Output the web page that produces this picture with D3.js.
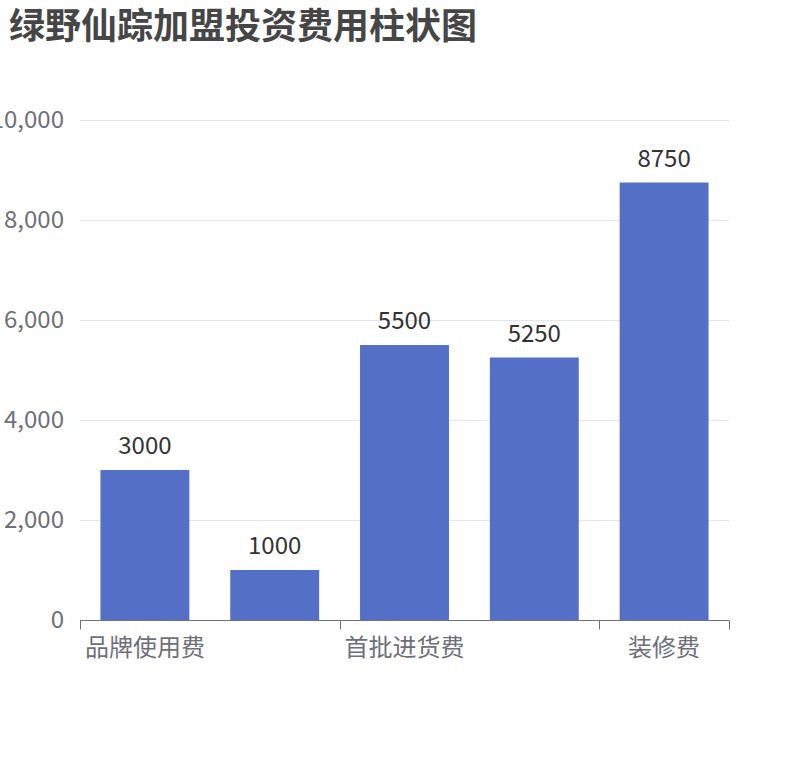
<!DOCTYPE html>
<html>
<head>
<meta charset="utf-8">
<script src="https://cdn.jsdelivr.net/npm/d3@7"></script>
<style>
  body { margin: 0; background: #fff; }
  svg { display: block; font-family: "Noto Sans CJK SC", "Noto Sans", sans-serif; }
</style>
</head>
<body>
<div id="chart"></div>
<script>
"use strict";

// data
var categories = ["品牌使用费", "加盟费", "首批进货费", "设备费", "装修费"];
var values = [3000, 1000, 5500, 5250, 8750];
var yTicks = [0, 2000, 4000, 6000, 8000, 10000];
var title = "绿野仙踪加盟投资费用柱状图";

var width = 810, height = 760;
var margin = {top: 120, right: 81, bottom: 140, left: 80};

var svg = d3.select("#chart").append("svg")
	.attr("width", width)
	.attr("height", height);

svg.append("text")
	.attr("x", 9)
	.attr("y", 39)
	.attr("font-size", 36)
	.attr("font-weight", "bold")
	.attr("fill", "#464646")
	.text(title);

var x = d3.scaleBand()
	.domain(categories)
	.range([margin.left, width - margin.right])
	.paddingInner(0.315)
	.paddingOuter(0.1575);

var band = d3.scaleBand()
	.domain(categories)
	.range([margin.left, width - margin.right]);

var y = d3.scaleLinear()
	.domain([0, 10000])
	.range([height - margin.bottom, margin.top]);

// grid lines
svg.append("g").selectAll("line")
	.data(yTicks.slice(1))
	.join("line")
	.attr("x1", margin.left)
	.attr("x2", width - margin.right)
	.attr("y1", function(d) { return y(d) + 0.5; })
	.attr("y2", function(d) { return y(d) + 0.5; })
	.attr("stroke", "#e0e6f1")
	.attr("stroke-width", 1);

// y axis labels
var fmt = d3.format(",");
svg.append("g").selectAll("text")
	.data(yTicks)
	.join("text")
	.attr("x", margin.left - 16)
	.attr("y", function(d) { return y(d); })
	.attr("dy", "0.33em")
	.attr("text-anchor", "end")
	.attr("font-size", 24)
	.attr("fill", "#6e7079")
	.text(function(d) { return fmt(d); });

// bars
svg.append("g").selectAll("rect")
	.data(values)
	.join("rect")
	.attr("x", function(d, i) { return x(categories[i]); })
	.attr("y", function(d) { return y(d); })
	.attr("width", x.bandwidth())
	.attr("height", function(d) { return y(0) - y(d); })
	.attr("fill", "#5470c6");

// value labels
svg.append("g").selectAll("text")
	.data(values)
	.join("text")
	.attr("x", function(d, i) { return x(categories[i]) + x.bandwidth() / 2; })
	.attr("y", function(d) { return y(d) - 16; })
	.attr("text-anchor", "middle")
	.attr("font-size", 24)
	.attr("fill", "#333")
	.text(function(d) { return d; });

// x axis
var axisY = y(0) + 0.5;
var axis = svg.append("g");
axis.append("line")
	.attr("x1", margin.left)
	.attr("x2", width - margin.right)
	.attr("y1", axisY)
	.attr("y2", axisY)
	.attr("stroke", "#6e7079");

// labels only every other category, like the reference
var shown = categories.filter(function(d, i) { return i % 2 === 0; });
var tickPos = shown.map(function(d) { return band(d); }).concat([width - margin.right]);
axis.selectAll("line.tick")
	.data(tickPos)
	.join("line")
	.attr("class", "tick")
	.attr("x1", function(d) { return Math.round(d) + 0.5; })
	.attr("x2", function(d) { return Math.round(d) + 0.5; })
	.attr("y1", axisY)
	.attr("y2", axisY + 9)
	.attr("stroke", "#6e7079");

axis.selectAll("text")
	.data(shown)
	.join("text")
	.attr("x", function(d) { return band(d) + band.bandwidth() / 2; })
	.attr("y", axisY + 35)
	.attr("text-anchor", "middle")
	.attr("font-size", 24)
	.attr("fill", "#6e7079")
	.text(function(d) { return d; });
</script>
</body>
</html>
